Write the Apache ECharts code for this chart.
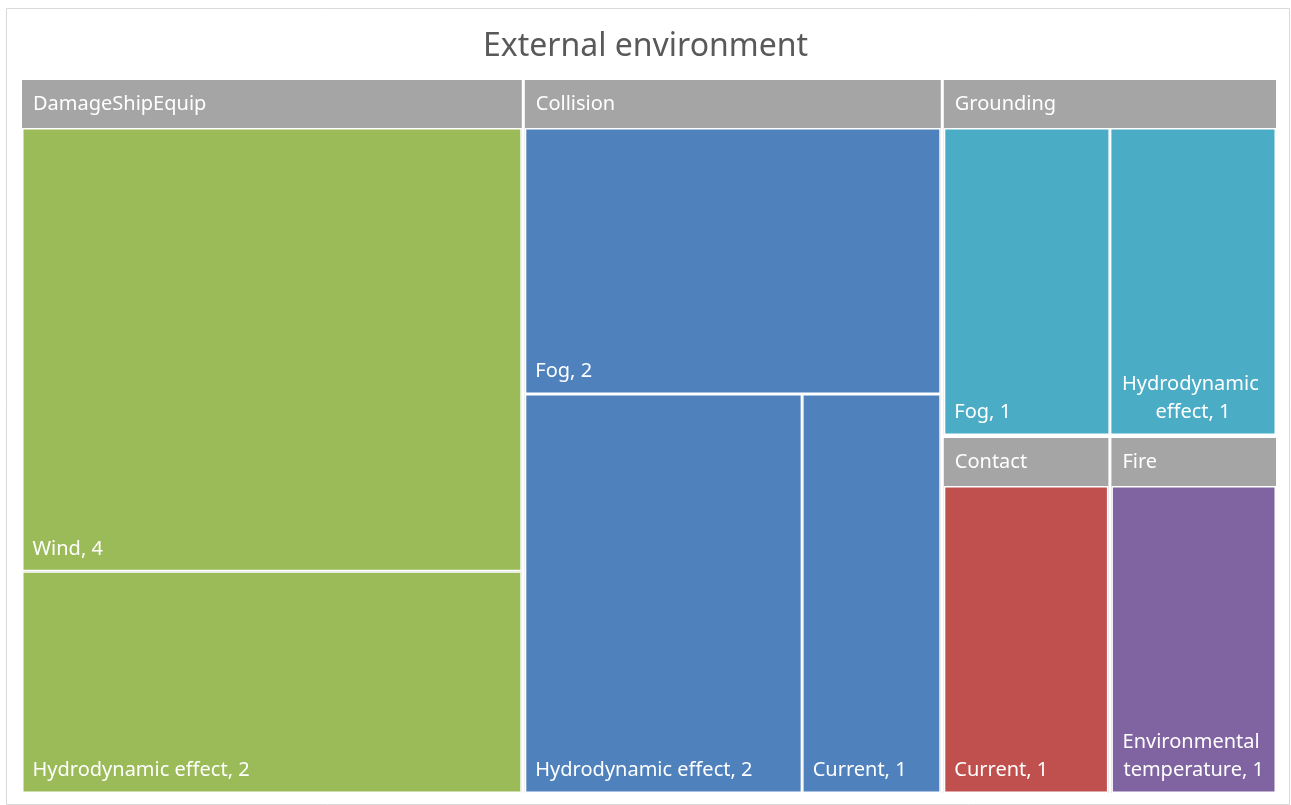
<!DOCTYPE html>
<html>
<head>
<meta charset="utf-8">
<title>External environment</title>
<script src="https://cdn.jsdelivr.net/npm/echarts@6/dist/echarts.min.js"></script>
<style>
  html, body { margin: 0; padding: 0; background: #fff; }
  #chart { width: 1291px; height: 805px; }
</style>
</head>
<body>
<div id="chart"></div>
<script>
// categories (top level) and their leaves
const groups = ['DamageShipEquip', 'Collision', 'Grounding', 'Contact', 'Fire']
const leafNames = [
  ['Wind', 'Hydrodynamic effect'],
  ['Fog', 'Hydrodynamic effect', 'Current'],
  ['Fog', 'Hydrodynamic effect'],
  ['Current'],
  ['Environmental temperature']
]
const leafValues = [
  [4, 2],
  [2, 2, 1],
  [1, 1],
  [1],
  [1]
]
const groupColors = ['#9bbb59', '#4f81bd', '#4bacc6', '#c0504d', '#8064a2']

// leaves whose label wraps in a narrow box, Excel centres those
const centeredLabels = ['Grounding|Hydrodynamic effect', 'Fire|Environmental temperature']

const chart = echarts.init(document.getElementById('chart'))

const treeData = groups.map((g, i) => ({
  name: g,
  itemStyle: { color: groupColors[i] },
  children: leafNames[i].map((n, j) => {
    const item = { name: n, value: leafValues[i][j] }
    if (centeredLabels.includes(g + '|' + n)) {
      item.label = { position: 'insideBottom', align: 'center', padding: 0 }
    }
    return item
  })
}))

chart.setOption({
  animation: false,
  title: {
    text: 'External environment',
    left: 'center',
    top: 31,
    padding: 0,
    textStyle: {
      fontFamily: 'Noto Sans',
      fontSize: 32,
      fontWeight: 'normal',
      color: '#595959'
    }
  },
  graphic: [{
    type: 'rect',
    shape: { x: 6.5, y: 8.5, width: 1283, height: 796 },
    style: { fill: 'none', stroke: '#d9d9d9', lineWidth: 1 },
    silent: true
  }],
  series: [{
    type: 'treemap',
    left: 22,
    top: 80,
    width: 1254,
    height: 713,
    roam: false,
    nodeClick: false,
    breadcrumb: { show: false },
    // data is already in Excel order, keep it
    sort: false,
    squareRatio: 1.075,
    data: treeData,
    levels: [
      {
        itemStyle: { borderWidth: 0, gapWidth: 3, borderColor: '#fff' }
      },
      {
        itemStyle: { borderWidth: 0, gapWidth: 0, borderColor: '#a5a5a5' },
        upperLabel: {
          show: true,
          height: 48,
          position: 'insideLeft',
          distance: 5,
          padding: [0, 0, 0, 6],
          color: '#fff',
          fontFamily: 'Noto Sans',
          fontSize: 20
        }
      },
      {
        itemStyle: { borderWidth: 1.5, borderColor: '#fff' },
        label: {
          show: true,
          position: 'insideBottomLeft',
          distance: 7,
          padding: [0, 0, 0, 2],
          formatter: '{b}, {c}',
          overflow: 'break',
          color: '#fff',
          fontFamily: 'Noto Sans',
          fontSize: 20,
          lineHeight: 28
        }
      }
    ]
  }]
})
</script>
</body>
</html>
